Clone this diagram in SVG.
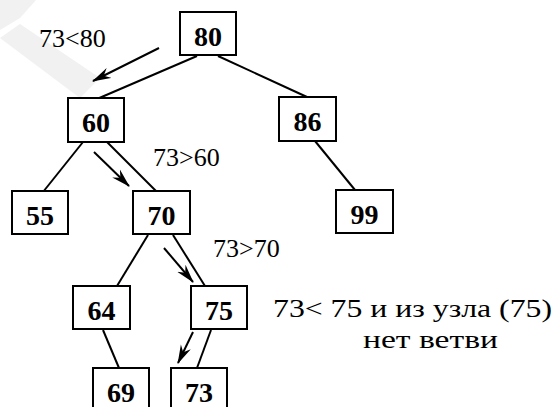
<svg xmlns="http://www.w3.org/2000/svg" width="556" height="407" viewBox="0 0 556 407">
<style>
.box{fill:#fff;stroke:#000;stroke-width:2}
.num{font-family:"Liberation Serif",serif;font-weight:bold;font-size:28px;text-anchor:middle;fill:#000}
.lbl{font-family:"Liberation Serif",serif;font-size:26px;fill:#000}
.edge{stroke:#000;stroke-width:2;fill:none}
.arr{stroke:#000;stroke-width:2;fill:none;marker-end:url(#ah)}
</style>
<defs>
<marker id="ah" markerUnits="userSpaceOnUse" markerWidth="20" markerHeight="12" refX="18" refY="6" orient="auto" viewBox="0 0 20 12">
<path d="M0,0.5 L19,6 L0,11.5 L6,6 Z" fill="#000"/>
</marker>
</defs>
<rect width="556" height="407" fill="#fff"/>
<g id="watermark" fill="#f1f1f1">
<path d="M0,0 L36,0 L20,18 L0,30 Z"/>
<path d="M0,38 L20,24 L100,78 L80,98 Z"/>
</g>
<g id="connectors">
<line class="edge" x1="197" y1="56" x2="97" y2="99"/>
<line class="edge" x1="218" y1="56" x2="307" y2="97"/>
<line class="edge" x1="83" y1="142" x2="43" y2="192"/>
<line class="edge" x1="107" y1="142" x2="157" y2="192"/>
<line class="edge" x1="315" y1="141" x2="355" y2="190"/>
<line class="edge" x1="148" y1="235" x2="117" y2="286"/>
<line class="edge" x1="173" y1="235" x2="205" y2="286"/>
<line class="edge" x1="103" y1="330" x2="119" y2="368"/>
<line class="edge" x1="211" y1="330" x2="197" y2="368"/>
<line class="arr" x1="159" y1="48" x2="93" y2="81"/>
<line class="arr" x1="94" y1="152" x2="129" y2="186"/>
<line class="arr" x1="164" y1="248" x2="193" y2="282"/>
<line class="arr" x1="193" y1="332" x2="178" y2="363"/>
</g>
<g id="n80"><rect class="box" x="180" y="12" width="56" height="43"/><text class="num" x="208" y="46">80</text></g>
<g id="n60"><rect class="box" x="68" y="98" width="56" height="44"/><text class="num" x="96" y="132">60</text></g>
<g id="n86"><rect class="box" x="279" y="97" width="57" height="44"/><text class="num" x="307.5" y="131">86</text></g>
<g id="n55"><rect class="box" x="12" y="191" width="56" height="43"/><text class="num" x="40" y="225">55</text></g>
<g id="n70"><rect class="box" x="133" y="191" width="57" height="43"/><text class="num" x="161.5" y="225">70</text></g>
<g id="n99"><rect class="box" x="336" y="190" width="57" height="43"/><text class="num" x="364.5" y="224">99</text></g>
<g id="n64"><rect class="box" x="73" y="286" width="57" height="43"/><text class="num" x="101.5" y="320">64</text></g>
<g id="n75"><rect class="box" x="191" y="286" width="56" height="43"/><text class="num" x="219" y="320">75</text></g>
<g id="n69"><rect class="box" x="93" y="368" width="56" height="45"/><text class="num" x="121" y="402">69</text></g>
<g id="n73"><rect class="box" x="171" y="368" width="56" height="45"/><text class="num" x="199" y="402">73</text></g>
<g id="labels">
<text class="lbl" x="39" y="47">73&lt;80</text>
<text class="lbl" x="153" y="166">73&gt;60</text>
<text class="lbl" x="213" y="257">73&gt;70</text>
<text class="lbl" x="273" y="317" textLength="279" lengthAdjust="spacingAndGlyphs">73&lt; 75 и из узла (75)</text>
<text class="lbl" x="363" y="348" textLength="135" lengthAdjust="spacingAndGlyphs">нет ветви</text>
</g>
</svg>
